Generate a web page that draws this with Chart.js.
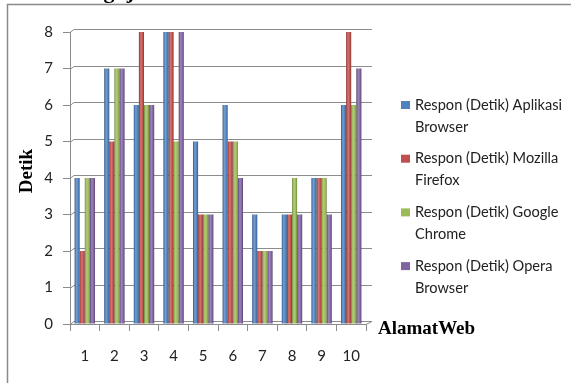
<!DOCTYPE html>
<html>
<head>
<meta charset="utf-8">
<script src="https://cdn.jsdelivr.net/npm/chart.js@4.4.0/dist/chart.umd.min.js"></script>
<style>
  html, body { margin: 0; padding: 0; background: #ffffff; }
  #wrap { width: 571px; height: 383px; position: relative; }
</style>
</head>
<body>
<div id="wrap"><canvas id="c" width="571" height="383"></canvas></div>
<script>
// Response time (seconds) per web address, one array per browser
const categories = ['1', '2', '3', '4', '5', '6', '7', '8', '9', '10'];
const aplikasiBrowser = [4, 7, 6, 8, 5, 6, 3, 3, 4, 6];
const mozillaFirefox  = [2, 5, 8, 8, 3, 5, 2, 3, 4, 8];
const googleChrome    = [4, 7, 6, 5, 3, 5, 2, 4, 4, 6];
const operaBrowser    = [4, 7, 6, 8, 3, 4, 2, 3, 3, 7];

const seriesLabels = [
  ['Respon (Detik) Aplikasi', 'Browser'],
  ['Respon (Detik) Mozilla', 'Firefox'],
  ['Respon (Detik) Google', 'Chrome'],
  ['Respon (Detik) Opera', 'Browser']
];
const seriesColors = ['#4F81BD', '#C0504D', '#9BBB59', '#8064A2'];
const yTickValues = [0, 1, 2, 3, 4, 5, 6, 7, 8];
const yTitle = 'Detik';
const xTitle = 'AlamatWeb';
const headTitle = 'Pengujian';

const CAT_PCT = 0.69;
const AXIS_GREY = '#8c8c8c';

function mix(hex, amt) {
  const n = parseInt(hex.slice(1), 16);
  let r = (n >> 16) & 255, g = (n >> 8) & 255, b = n & 255;
  const t = amt < 0 ? 0 : 255, p = Math.abs(amt);
  r = Math.round(r + (t - r) * p);
  g = Math.round(g + (t - g) * p);
  b = Math.round(b + (t - b) * p);
  return 'rgb(' + r + ',' + g + ',' + b + ')';
}

// Rounded column shading: dark rim, light streak left of centre
function barFill(ctx) {
  const base = seriesColors[ctx.datasetIndex];
  const xs = ctx.chart.scales && ctx.chart.scales.x;
  if (ctx.type !== 'data' || !xs || xs.right === undefined) return base;
  const catW = (xs.right - xs.left) / categories.length;
  const bw = catW * CAT_PCT / seriesColors.length;
  const cx = xs.getPixelForValue(ctx.dataIndex) + (ctx.datasetIndex - 1.5) * bw;
  const g = ctx.chart.ctx.createLinearGradient(cx - bw / 2, 0, cx + bw / 2, 0);
  g.addColorStop(0, mix(base, -0.35));
  g.addColorStop(0.18, base);
  g.addColorStop(0.4, mix(base, 0.22));
  g.addColorStop(0.75, base);
  g.addColorStop(1, mix(base, -0.3));
  return g;
}

const series = [aplikasiBrowser, mozillaFirefox, googleChrome, operaBrowser];

const decorations = {
  id: 'decorations',
  beforeDraw(chart) {
    const c = chart.ctx;
    c.save();
    // outer frame
    c.strokeStyle = '#8a8a8a';
    c.lineWidth = 1.5;
    c.beginPath();
    c.moveTo(571, 4.5);
    c.lineTo(7.5, 4.5);
    c.lineTo(7.5, 383);
    c.stroke();
    // heading, mostly above the visible area
    c.fillStyle = '#000';
    c.font = 'bold 22px "Liberation Serif", "Times New Roman", serif';
    c.textBaseline = 'alphabetic';
    c.fillText(headTitle, 68, -2);
    c.restore();
  },
  beforeDatasetsDraw(chart) {
    const c = chart.ctx, ys = chart.scales.y, a = chart.chartArea;
    c.save();
    c.strokeStyle = AXIS_GREY;
    c.lineWidth = 1;
    ys.ticks.forEach(t => {
      const py = Math.round(ys.getPixelForValue(t.value)) - 2.5;
      c.beginPath();
      c.moveTo(a.left, py + 3);
      c.lineTo(a.left + 4, py);
      c.lineTo(a.right + 6, py);
      c.stroke();
    });
    // floor edge at the right end
    c.beginPath();
    c.moveTo(a.right, Math.round(a.bottom) + 0.5);
    c.lineTo(a.right + 6, Math.round(ys.getPixelForValue(0)) - 2.5);
    c.stroke();
    c.restore();
  },
  afterDraw(chart) {
    const c = chart.ctx;
    c.save();
    // axis titles
    c.fillStyle = '#000';
    c.font = 'bold 19px "Liberation Serif", "Times New Roman", serif';
    c.textBaseline = 'alphabetic';
    c.textAlign = 'left';
    c.fillText(xTitle, 378, 334);
    c.save();
    c.translate(32, 171);
    c.rotate(-Math.PI / 2);
    c.textAlign = 'center';
    c.fillText(yTitle, 0, 0);
    c.restore();
    // legend
    c.font = '14.6px Lato, "Open Sans", sans-serif';
    c.textAlign = 'left';
    c.textBaseline = 'middle';
    chart.data.datasets.forEach((ds, i) => {
      const cy = 105 + i * 53.7;
      c.fillStyle = seriesColors[i];
      c.fillRect(401, cy - 4, 9, 8);
      c.fillStyle = '#222';
      ds.legendLines.forEach((line, k) => c.fillText(line, 415, cy + k * 22));
    });
    c.restore();
  }
};

new Chart(document.getElementById('c'), {
  type: 'bar',
  data: {
    labels: categories,
    datasets: series.map((vals, i) => ({
      label: seriesLabels[i].join(' '),
      legendLines: seriesLabels[i],
      data: vals,
      backgroundColor: barFill,
      borderWidth: 0,
      categoryPercentage: CAT_PCT,
      barPercentage: 1.0
    }))
  },
  options: {
    responsive: false,
    animation: false,
    devicePixelRatio: 1,
    layout: { padding: { left: 0, top: 32, right: 205, bottom: 0 } },
    plugins: { legend: { display: false }, tooltip: { enabled: false }, title: { display: false } },
    scales: {
      x: {
        grid: { offset: true, drawOnChartArea: false, tickLength: 7, color: AXIS_GREY },
        border: { display: true, color: AXIS_GREY },
        ticks: { color: '#222', font: { family: 'Lato', size: 15 }, padding: 16, maxRotation: 0 },
        afterFit(s) { s.height = 59; }
      },
      y: {
        min: 0,
        max: 8,
        afterBuildTicks(s) { s.ticks = yTickValues.map(v => ({ value: v })); },
        grid: { drawOnChartArea: false, tickLength: 7, color: AXIS_GREY },
        border: { display: true, color: AXIS_GREY },
        ticks: { color: '#222', font: { family: 'Lato', size: 15 }, padding: 10 },
        afterFit(s) { s.width = 70; }
      }
    }
  },
  plugins: [decorations]
});
</script>
</body>
</html>
